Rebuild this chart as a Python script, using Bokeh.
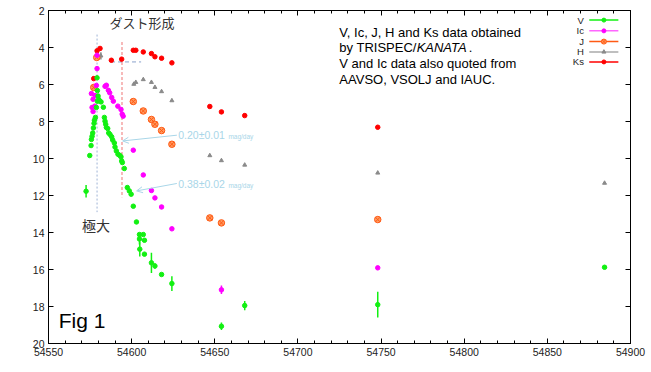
import math
from bokeh.plotting import figure
from bokeh.models import (Range1d, LinearAxis, SingleIntervalTicker, Label, Arrow,
                          OpenHead)
from bokeh.embed import file_html
from bokeh.resources import INLINE

# ---------------- data (JD-2400000, magnitude, error) ----------------
v_jd = [54572.6, 54574.8, 54575.6, 54575.8, 54576.2, 54576.6, 54577.0, 54577.4, 54577.6,
        54578.2, 54578.8, 54579.2, 54579.4, 54579.8, 54580.2, 54579.4, 54580.8, 54581.6,
        54583.0, 54583.6, 54584.0, 54584.4, 54584.8, 54585.6, 54586.2, 54587.0, 54588.0,
        54588.6, 54589.6, 54590.0, 54590.8, 54591.8, 54592.8, 54593.6, 54594.0, 54594.4,
        54595.6, 54597.4, 54598.6, 54599.7, 54601.0, 54602.9, 54604.7, 54607.0, 54604.7,
        54607.7, 54604.9, 54607.7, 54611.9, 54614.0, 54618.0, 54624.2, 54654.0, 54668.0,
        54748.0, 54884.4]
v_mag = [11.77, 9.84, 9.30, 8.97, 8.80, 8.62, 8.35, 8.10, 7.93,
         7.78, 7.24, 5.64, 6.33, 6.62, 6.81, 6.90, 6.89, 6.94,
         7.23, 7.78, 7.98, 8.15, 8.32, 8.38, 8.62, 8.70, 8.83,
         9.00, 9.16, 9.38, 9.59, 9.77, 9.83, 9.91, 10.13, 10.22,
         10.54, 11.57, 11.75, 11.93, 12.58, 13.43, 14.11, 14.11, 14.35,
         14.42, 14.90, 15.17, 15.64, 15.81, 16.27, 16.76, 19.07, 17.95,
         17.90, 15.88]
v_err = [0.34, 0, 0, 0, 0, 0, 0, 0, 0,
         0, 0, 0, 0, 0, 0, 0, 0, 0,
         0, 0, 0, 0, 0, 0, 0, 0, 0,
         0, 0, 0, 0, 0, 0, 0, 0, 0,
         0, 0, 0, 0, 0, 0, 0, 0, 0.30,
         0, 0.40, 0, 0.55, 0.15, 0, 0.40, 0.20, 0.25,
         0.70, 0]

ic_jd = [54579.2, 54579.2, 54578.8, 54575.8, 54578.0, 54576.8, 54576.2, 54576.8, 54577.8,
         54584.0, 54584.8, 54586.0, 54586.8, 54588.0, 54589.0, 54591.7, 54593.6, 54594.3,
         54594.9, 54601.0, 54607.0, 54611.9, 54614.0, 54618.0, 54624.2, 54654.0, 54748.0]
ic_mag = [4.42, 5.14, 6.05, 6.49, 6.60, 6.80, 7.24, 7.46, 7.17,
          6.10, 6.04, 6.31, 6.45, 6.70, 6.90, 7.17, 7.35, 7.60,
          7.71, 9.55, 10.89, 11.73, 12.13, 12.62, 13.80, 17.10, 15.91]
ic_err = [0, 0, 0, 0, 0, 0, 0, 0, 0,
          0, 0, 0, 0, 0, 0, 0, 0, 0,
          0, 0, 0, 0, 0, 0, 0, 0.23, 0]

j_jd = [54579.0, 54577.2, 54601.0, 54607.0, 54611.9, 54614.0, 54618.0, 54624.2,
        54647.0, 54654.0, 54748.0]
j_mag = [4.54, 6.16, 6.92, 7.43, 7.89, 8.15, 8.49, 9.23, 13.21, 13.48, 13.30]
j_err = [0, 0, 0, 0, 0, 0, 0, 0, 0.08, 0, 0.08]

h_jd = [54581.5, 54601.3, 54602.5, 54607.0, 54611.9, 54614.0, 54618.0, 54624.2,
        54647.0, 54654.0, 54668.0, 54748.0, 54884.4]
h_mag = [4.45, 5.98, 5.88, 5.73, 5.88, 6.15, 6.38, 6.87, 9.84, 10.11, 10.35, 10.78, 11.33]
h_err = [0.20, 0, 0, 0, 0, 0, 0, 0, 0, 0, 0, 0, 0]

ks_jd = [54577.2, 54579.2, 54581.0, 54587.8, 54594.0, 54601.0, 54602.5, 54607.0,
         54611.9, 54614.0, 54618.0, 54624.2, 54647.0, 54654.0, 54668.0, 54748.0]
ks_mag = [5.68, 4.18, 4.05, 4.69, 4.63, 4.15, 4.15, 4.24, 4.33, 4.50, 4.58, 4.83,
          7.19, 7.48, 7.68, 8.31]

band_names = ["V", "Ic", "J", "H", "Ks"]
x_ticks_interval = 50
y_ticks_interval = 2

# annotation anchors (JD, mag)
peak_line = (54579.2, 3.3, 12.9)       # x, top, bottom
dust_line = (54594.2, 3.7, 12.1)
dust_hline = (54587.6, 54605.7, 4.78)  # x0, x1, y
rate1 = "0.20±0.01"
rate2 = "0.38±0.02"

FONT = "Liberation Sans"
CJK = "Noto Sans CJK JP"

C_V = "#12f012"
C_IC = "#ff00ff"
C_J = "#ff5a14"
C_H = "#8a8a8a"
C_KS = "#ff0000"
C_ANN = "#a9d6e8"

p = figure(frame_width=582, frame_height=333, x_range=Range1d(54550, 54900),
           y_range=Range1d(20, 2), output_backend="svg", toolbar_location=None,
           min_border_left=48, min_border_right=21, min_border_top=10, min_border_bottom=29)
p.grid.grid_line_color = None
p.outline_line_color = "black"
p.background_fill_color = "white"
p.border_fill_color = "white"


def style_axis(ax, minor=True, labels=True):
    ax.axis_line_color = "black"
    ax.major_tick_in = 5
    ax.major_tick_out = 0
    ax.minor_tick_in = 3
    ax.minor_tick_out = 0
    ax.major_tick_line_color = "black"
    ax.minor_tick_line_color = "black" if minor else None
    if labels:
        ax.major_label_text_font = FONT
        ax.major_label_text_font_size = "10.5px"
        ax.major_label_text_color = "#222222"
        ax.major_label_standoff = 4
    else:
        ax.major_label_text_font_size = "1px"
        ax.major_label_text_color = None
        ax.major_label_standoff = 0


xax = p.xaxis[0]
xax.ticker = SingleIntervalTicker(interval=x_ticks_interval, num_minor_ticks=5)
style_axis(xax)
yax = p.yaxis[0]
yax.ticker = SingleIntervalTicker(interval=y_ticks_interval, num_minor_ticks=2)
style_axis(yax, minor=False)

top = LinearAxis(ticker=SingleIntervalTicker(interval=x_ticks_interval, num_minor_ticks=5))
style_axis(top, labels=False)
p.add_layout(top, "above")
right = LinearAxis(ticker=SingleIntervalTicker(interval=y_ticks_interval, num_minor_ticks=2))
style_axis(right, minor=False, labels=False)
p.add_layout(right, "right")

# ---- slide edge decorations (outside the frame) ----
p.add_layout(Arrow(end=None, x_start=54522.2, y_start=1.3, x_end=54522.2, y_end=21.7,
                   line_color="#f2c6c6", line_width=3))
p.add_layout(Arrow(end=None, x_start=54912.3, y_start=2.2, x_end=54912.3, y_end=3.06,
                   line_color="black", line_width=1.5))

# ---- annotation lines ----
p.segment(x0=[peak_line[0]], y0=[peak_line[1]], x1=[peak_line[0]], y1=[peak_line[2]],
          line_color="#9fb3d6", line_dash="2 2", line_width=1)
p.segment(x0=[dust_line[0]], y0=[dust_line[1]], x1=[dust_line[0]], y1=[dust_line[2]],
          line_color="#f5a3a3", line_dash="3 2", line_width=1.5)
p.segment(x0=[dust_hline[0]], y0=[dust_hline[2]], x1=[dust_hline[1]], y1=[dust_hline[2]],
          line_color="#8aa2cc", line_dash="4 3", line_width=1)


def errbars(jd, mag, err, color):
    xs = [x for x, e in zip(jd, err) if e > 0]
    lo = [m - e for m, e in zip(mag, err) if e > 0]
    hi = [m + e for m, e in zip(mag, err) if e > 0]
    p.segment(x0=xs, y0=lo, x1=xs, y1=hi, line_color=color, line_width=1.5)


errbars(v_jd, v_mag, v_err, C_V)
errbars(ic_jd, ic_mag, ic_err, C_IC)
errbars(j_jd, j_mag, j_err, C_J)
errbars(h_jd, h_mag, h_err, C_H)

p.scatter(h_jd, h_mag, marker="triangle", size=4, color=C_H)
p.scatter(j_jd, j_mag, marker="circle_x", size=6.5, fill_color="#ff9a60", line_color=C_J)
p.scatter(ks_jd, ks_mag, marker="circle", size=4.5, color=C_KS)
p.scatter(ic_jd, ic_mag, marker="circle", size=4.5, color=C_IC)
p.scatter(v_jd, v_mag, marker="circle", size=4.5, color=C_V)

# ---- arrows & rate labels ----
p.add_layout(Arrow(end=OpenHead(size=6, line_color=C_ANN, line_width=1),
                   x_start=54627.2, y_start=8.74, x_end=54594.6, y_end=9.05,
                   line_color=C_ANN, line_width=1))
p.add_layout(Arrow(end=OpenHead(size=6, line_color=C_ANN, line_width=1),
                   x_start=54627.2, y_start=11.35, x_end=54603.0, y_end=11.75,
                   line_color=C_ANN, line_width=1))
for txt, yy in [(rate1, 8.74), (rate2, 11.39)]:
    p.add_layout(Label(x=54628.0, y=yy, text=txt, text_font=FONT, text_font_size="10.5px",
                       text_color=C_ANN, text_baseline="middle", text_align="left"))
    p.add_layout(Label(x=54658.2, y=yy + 0.05, text="mag/day", text_font=FONT,
                       text_font_size="6.5px", text_color=C_ANN, text_baseline="middle",
                       text_align="left"))

# ---- Japanese labels ----
p.add_layout(Label(x=54606.3, y=2.67, text="ダスト形成", text_font=CJK, text_font_size="13px",
                   text_color="#333333", text_align="center", text_baseline="middle"))
p.add_layout(Label(x=54578.6, y=13.6, text="極大", text_font=CJK, text_font_size="14px",
                   text_color="#333333", text_align="center", text_baseline="middle"))

# ---- Fig 1 ----
p.add_layout(Label(x=54556.1, y=18.73, text="Fig 1", text_font=FONT, text_font_size="21px",
                   text_color="black", text_align="left", text_baseline="middle"))

# ---- note block ----
note_x = 54724.9
note_y = [3.19, 4.02, 4.86, 5.71]
note_kw = dict(text_font=FONT, text_font_size="13px", text_color="black",
               text_baseline="middle", text_align="left")
p.add_layout(Label(x=note_x, y=note_y[0], text="V, Ic, J, H and Ks data obtained", **note_kw))
p.add_layout(Label(x=note_x, y=note_y[1], text="by TRISPEC/", **note_kw))
p.add_layout(Label(x=note_x, y=note_y[1], x_offset=77.3, text="KANATA",
                   text_font_style="italic", **note_kw))
p.add_layout(Label(x=note_x, y=note_y[1], x_offset=129.3, text=".", **note_kw))
p.add_layout(Label(x=note_x, y=note_y[2], text="V and Ic data also quoted from", **note_kw))
p.add_layout(Label(x=note_x, y=note_y[3], text="AAVSO, VSOLJ and IAUC.", **note_kw))

# ---- manual legend (label left, sample right) ----
leg_lab_x = 54872.0
leg_x0, leg_xm, leg_x1 = 54875.2, 54884.0, 54892.7
leg_y = [2.52, 3.10, 3.68, 4.24, 4.78]
leg_line_col = [C_V, "#ff66ff", C_J, "#aaaaaa", C_KS]
for name, yy, col in zip(band_names, leg_y, leg_line_col):
    p.add_layout(Label(x=leg_lab_x, y=yy, text=name, text_font=FONT, text_font_size="9.5px",
                       text_color="#222222", text_align="right", text_baseline="middle"))
p.segment(x0=[leg_x0] * 5, y0=leg_y, x1=[leg_x1] * 5, y1=leg_y, line_color=leg_line_col,
          line_width=1.5)
p.scatter([leg_xm], [leg_y[0]], marker="circle", size=4, color=C_V)
p.scatter([leg_xm], [leg_y[1]], marker="circle", size=4, color=C_IC)
p.scatter([leg_xm], [leg_y[2]], marker="circle_x", size=5, fill_color="#ff9a60", line_color=C_J)
p.scatter([leg_xm], [leg_y[3]], marker="triangle", size=4, color=C_H)
p.scatter([leg_xm], [leg_y[4]], marker="circle", size=4, color=C_KS)

# ---- axis titles as labels ----
p.add_layout(Label(x=54527.9, y=10.9, text="mag", angle=math.pi / 2, text_font=FONT,
                   text_font_size="9px", text_color="#222222", text_align="center",
                   text_baseline="middle"))
p.add_layout(Label(x=54741.0, y=21.15, text="JD-2400000", text_font=FONT,
                   text_font_size="10px", text_color="#222222", text_align="center",
                   text_baseline="top"))
p.add_layout(Label(x=54907.7, y=7.77, text="B-V", angle=math.pi / 2, text_font=FONT,
                   text_font_size="8px", text_color="#444444", text_align="center",
                   text_baseline="middle"))
p.add_layout(Label(x=54907.9, y=12.09, text="V magnitudes", angle=math.pi / 2, text_font=FONT,
                   text_font_size="8px", text_color="#444444", text_align="center",
                   text_baseline="middle"))

open("out.html", "w").write(file_html(p, INLINE))
